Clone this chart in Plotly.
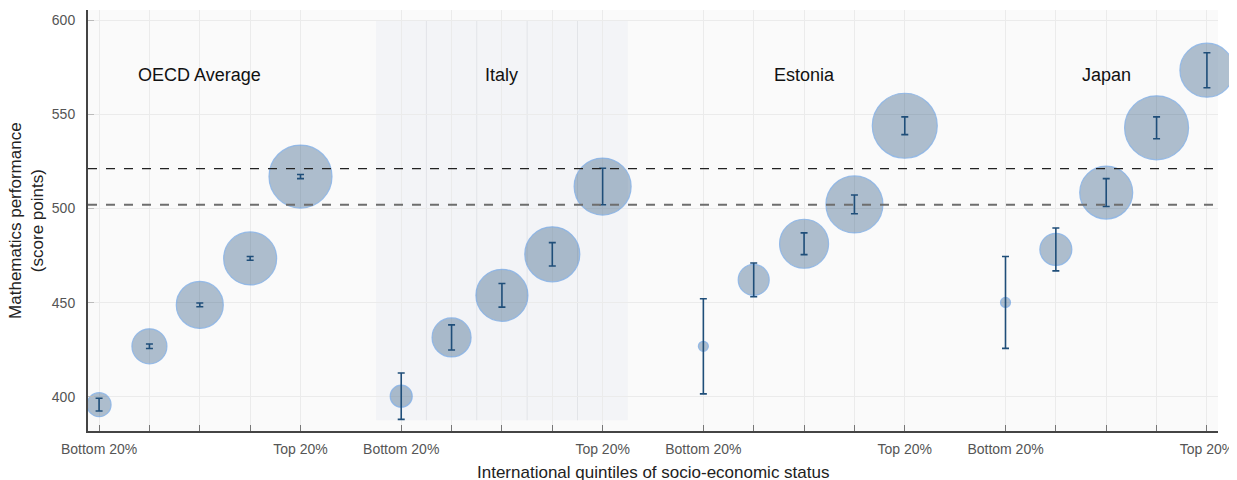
import plotly.graph_objects as go

# ---- data ----
groups = ["OECD Average", "Italy", "Estonia", "Japan"]
quintile_labels = ["Bottom 20%", "", "", "", "Top 20%"]

oecd_score = [395.8, 426.8, 448.8, 473.5, 517.0]
oecd_err = [3.4, 1.2, 1.0, 1.0, 1.1]
oecd_size = [24, 35, 47, 53, 63]

italy_score = [400.3, 431.5, 453.9, 475.7, 511.7]
italy_err = [12.3, 6.7, 6.3, 6.2, 9.7]
italy_size = [22, 39, 52, 55, 57]

estonia_score = [426.8, 462.1, 481.3, 502.2, 544.0]
estonia_err = [25.3, 9.0, 5.8, 5.0, 4.7]
estonia_size = [10, 31, 49, 57, 65]

japan_score = [450.1, 478.3, 508.5, 542.9, 573.5]
japan_err = [24.4, 11.4, 7.4, 5.8, 9.3]
japan_size = [10, 32, 53, 64, 54]

ref_line_top = 521.2
ref_line_bottom = 502.0
label_y = 571

x_title = "International quintiles of socio-economic status"
y_title = "Mathematics performance<br>(score points)"

scores = [oecd_score, italy_score, estonia_score, japan_score]
errs = [oecd_err, italy_err, estonia_err, japan_err]
sizes = [oecd_size, italy_size, estonia_size, japan_size]

GAP = 6  # 5 quintiles + 1 empty slot
xs, ys, es, ss = [], [], [], []
for g in range(len(groups)):
    for q in range(5):
        xs.append(g * GAP + q)
        ys.append(scores[g][q])
        es.append(errs[g][q])
        ss.append(sizes[g][q])

tickvals = xs
ticktext = quintile_labels * len(groups)

FONT = "Liberation Sans, Arial, sans-serif"
NAVY = "#1f4e79"

fig = go.Figure()

# bubbles
fig.add_trace(go.Scatter(
    x=xs, y=ys, mode="markers",
    marker=dict(size=ss, sizemode="diameter", color="rgba(31,78,121,0.50)",
                line=dict(color="rgba(90,150,225,0.85)", width=1.2)),
    cliponaxis=False, hoverinfo="skip", showlegend=False,
))
# error bars on top
fig.add_trace(go.Scatter(
    x=xs, y=ys, mode="markers",
    marker=dict(size=1, color="rgba(0,0,0,0)"),
    error_y=dict(type="data", array=es, visible=True, color=NAVY,
                 thickness=1.6, width=3.5),
    cliponaxis=False, hoverinfo="skip", showlegend=False,
))

# highlighted Italy block
italy_x = [1 * GAP + q for q in range(5)]
fig.add_shape(type="rect", xref="x", yref="y",
              x0=italy_x[0] - 0.5, x1=italy_x[-1] + 0.5, y0=387.5, y1=600,
              fillcolor="#f3f4f7", line=dict(width=0), layer="below")
for a, b in zip(italy_x[:-1], italy_x[1:]):
    m = (a + b) / 2
    fig.add_shape(type="line", xref="x", yref="y", x0=m, x1=m, y0=387.5, y1=600,
                  line=dict(color="#e2e4e8", width=1), layer="below")

# reference lines
fig.add_shape(type="line", xref="paper", yref="y", x0=0, x1=1,
              y0=ref_line_top, y1=ref_line_top,
              line=dict(color="#222222", width=1.3, dash="dash"), layer="above")
fig.add_shape(type="line", xref="paper", yref="y", x0=0, x1=1,
              y0=ref_line_bottom, y1=ref_line_bottom,
              line=dict(color="#6e6e6e", width=2, dash="dash"), layer="above")

# group labels
for g, name in enumerate(groups):
    fig.add_annotation(x=g * GAP + 2, y=label_y, text=name, showarrow=False,
                       font=dict(family=FONT, size=18, color="#111111"))

# axis titles as annotations (so they can sit where the reference puts them)
fig.add_annotation(xref="paper", yref="paper", x=0.5, y=-0.098,
                   xanchor="center", yanchor="middle", text=x_title,
                   showarrow=False, font=dict(family=FONT, size=17, color="#222222"))
fig.add_annotation(xref="paper", yref="paper", x=-0.0545, y=0.5,
                   xanchor="center", yanchor="middle", text=y_title, textangle=-90,
                   showarrow=False, font=dict(family=FONT, size=17, color="#222222"))

# page body adds an 8px offset, so the figure is 8px smaller and margins shifted
fig.update_layout(
    width=1229, height=472,
    margin=dict(l=80, r=19, t=2, b=49, autoexpand=False),
    paper_bgcolor="white", plot_bgcolor="#fafafa",
    font=dict(family=FONT),
    showlegend=False,
)
fig.update_xaxes(
    range=[-0.22, 22.22], tickmode="array", tickvals=tickvals, ticktext=ticktext,
    ticks="inside", ticklen=6, tickcolor="#777777", tickwidth=1,
    tickfont=dict(family=FONT, size=14, color="#555555"),
    showgrid=True, gridcolor="#ebebeb", gridwidth=1, zeroline=False,
    showline=True, linecolor="#444444", linewidth=2,
    ticklabelstandoff=4,
)
fig.update_yaxes(
    range=[381.8, 605.5], tickvals=[400, 450, 500, 550, 600],
    ticks="inside", ticklen=6, tickcolor="#bbbbbb",
    tickfont=dict(family=FONT, size=14, color="#555555"),
    showgrid=True, gridcolor="#ebebeb", gridwidth=1, zeroline=False,
    showline=True, linecolor="#444444", linewidth=2,
    ticklabelstandoff=8,
)

fig.write_html("out.html")
